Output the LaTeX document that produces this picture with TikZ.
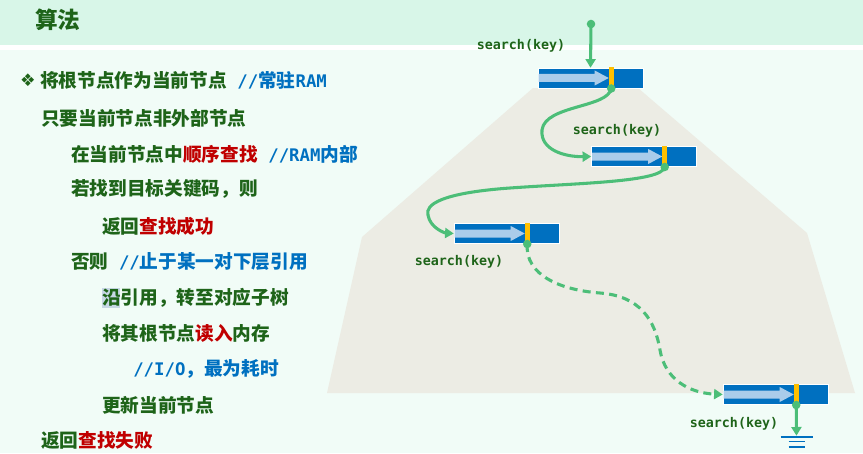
\documentclass[tikz,border=0pt]{standalone}
\usepackage{fontspec}
\setmainfont{Noto Sans CJK SC}
\setmonofont{DejaVu Sans Mono}
\newfontfamily\symb{DejaVu Sans}
\usepackage{xcolor}
\usetikzlibrary{arrows.meta}
\definecolor{vertf}{RGB}{30,100,25}
\definecolor{bleu}{RGB}{0,112,192}
\definecolor{bleuc}{RGB}{170,204,234}
\definecolor{rouge}{RGB}{192,0,0}
\definecolor{vertc}{RGB}{76,190,120}
\definecolor{orange}{RGB}{255,192,0}
\definecolor{beige}{RGB}{236,236,228}
\definecolor{fond}{RGB}{241,252,247}
\definecolor{bande}{RGB}{216,246,232}
\newcommand{\rg}[1]{{\color{rouge}#1}}
\newcommand{\rmq}[1]{{\color{bleu}#1}}
\newcommand{\tto}[1]{{\ttfamily\fontsize{13}{16}\selectfont #1}}
% bloc = un noeud du B-arbre
\newcommand{\bloc}[3]{%
  \node[barre] (#1) at (#2,#3) {};
  \fill[bleuc] ([shift={(1,-4)}]#1.west) -- ([shift={(57,-4)}]#1.west) -- ([shift={(57,-7.5)}]#1.west)
    -- ([shift={(71,0)}]#1.west) -- ([shift={(57,7.5)}]#1.west) -- ([shift={(57,4)}]#1.west)
    -- ([shift={(1,4)}]#1.west) -- cycle;
  \fill[orange] ([shift={(71,-11)}]#1.west) rectangle ([shift={(76,10.5)}]#1.west);
  \coordinate (#1k) at ([shift={(73.5,10.5)}]#1.west);
}

\begin{document}
\begin{tikzpicture}[x=0.75pt, y=-0.75pt,
  barre/.style={rectangle, fill=bleu, draw=white, line width=0.4pt, minimum width=78.75pt,
                minimum height=15pt, inner sep=0pt},
  ligne/.style={anchor=west, inner sep=0pt, text=vertf, font=\bfseries\fontsize{14}{16}\selectfont},
  cle/.style={inner sep=0pt, text=vertf, font=\ttfamily\bfseries\fontsize{10}{12}\selectfont},
  fleche/.style={vertc, line width=2.3pt, -{Triangle[length=6.5pt,width=7.5pt]}}]

\useasboundingbox (0,0) rectangle (863,453);
\fill[fond] (0,0) rectangle (863,453);
\fill[bande] (0,0) rectangle (863,45);
\fill[white] (0,45) rectangle (863,50);

\node[anchor=west, inner sep=0pt, text=vertf, font=\bfseries\fontsize{17}{20}\selectfont] (titre) at (35,20) {算法};

% algorithme
\node[inner sep=0pt, text=vertf, font=\symb\fontsize{13}{14}\selectfont] (puce) at (28,80) {❖};
\node[ligne] (l1) at (40,80) {将根节点作为当前节点\rmq{\tto{ //}常驻\tto{RAM}}};
\node[ligne] (l2) at (41,118) {只要当前节点非外部节点};
\node[ligne] (l3) at (71,154) {在当前节点中\rg{顺序查找}\rmq{\tto{ //RAM}内部}};
\node[ligne] (l4) at (71,189) {若找到目标关键码，则};
\node[ligne] (l5) at (102,226) {返回\rg{查找成功}};
\node[ligne] (l6) at (71,262) {否则\rmq{\tto{ //}止于某一对下层引用}};
\fill[bleuc!80!gray!60] (102,288) rectangle (120,308);
\node[ligne] (l7) at (102,298) {沿引用，转至对应子树};
\node[ligne] (l8) at (102,333) {将其根节点\rg{读入}内存};
\node[ligne] (l9) at (133,369) {\rmq{\tto{//I/O}，最为耗时}};
\node[ligne] (l10) at (102,405) {更新当前节点};
\node[ligne] (l11) at (41,440) {返回\rg{查找失败}};

% le B-arbre
\fill[beige] (533,88) -- (638,88) -- (807,233) -- (855,393) -- (327,393) -- (362,237) -- cycle;

\bloc{n1}{590.5}{78}
\bloc{n2}{644}{156.5}
\bloc{n3}{506.5}{233.5}
\bloc{n4}{775.5}{394.5}

\node[cle] (s1) at (521,46) {search(key)};
\node[cle] (s2) at (617,131) {search(key)};
\node[cle] (s3) at (459,262) {search(key)};
\node[cle] (s4) at (734,424) {search(key)};

\coordinate (entree) at (591,24);
\coordinate (terre) at (796.5,437);

\draw[fleche] (entree) -- (n1.north);
\draw[fleche] (n1k) .. controls (608,108) and (545,105) .. (542,130)
  .. controls (540,150) and (565,157) .. (n2.west);
\draw[fleche] (n2k) .. controls (662,182) and (580,183) .. (510,188)
  .. controls (440,193) and (425,205) .. (428,215)
  .. controls (430,228) and (445,233) .. (n3.west);
\draw[fleche, dash pattern=on 6pt off 4pt] (n3k) .. controls (525,275) and (560,290) .. (600,293)
  .. controls (640,296) and (655,320) .. (660,350)
  .. controls (665,380) and (690,393) .. (n4.west);
\draw[fleche, shorten >=1pt] (n4k) -- (terre);

\foreach \p in {entree,n1k,n2k,n3k,n4k}
  \fill[vertc] (\p) circle (3.2pt);

% terre
\draw[bleu, line width=2.2pt] ([shift={(-16,0)}]terre) -- ([shift={(16,0)}]terre);
\draw[bleu, line width=1.1pt] ([shift={(-8,4.5)}]terre) -- ([shift={(8,4.5)}]terre);
\draw[bleu, line width=1.1pt] ([shift={(-8,10)}]terre) -- ([shift={(8,10)}]terre);

\end{tikzpicture}
\end{document}
